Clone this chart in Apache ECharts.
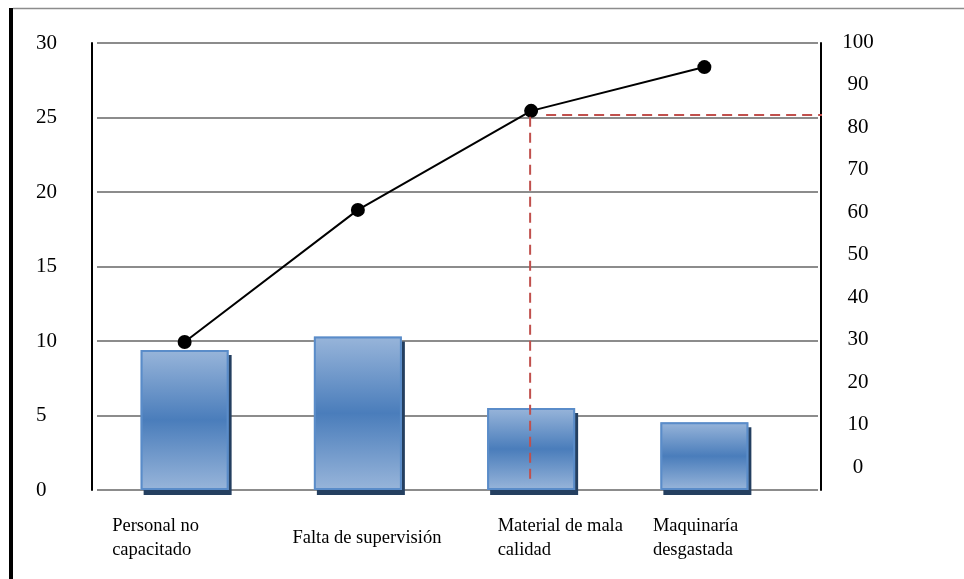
<!DOCTYPE html>
<html>
<head>
<meta charset="utf-8">
<script src="https://cdn.jsdelivr.net/npm/echarts@6/dist/echarts.min.js"></script>
<style>
html,body{margin:0;padding:0;background:#fff;}
#chart{width:964px;height:579px;}
</style>
</head>
<body>
<div id="chart"></div>
<script>
// ---- data ----
const categories = ['Personal no\ncapacitado', 'Falta de supervisión', 'Material de mala\ncalidad', 'Maquinaría\ndesgastada'];
const frequency = [9.4, 10.3, 5.5, 4.55];          // left axis (0-30)
const cumulativePct = [29.4, 60.5, 83.8, 94.1];   // right axis (0-100)
const leftTicks = [0, 5, 10, 15, 20, 25, 30];
const rightTicks = [0, 10, 20, 30, 40, 50, 60, 70, 80, 90, 100];
const cutIndex = 2;          // category where the 80% cut is drawn
const cutLevelLeft = 25.1;   // horizontal cut level in left-axis units
const cutBottomLeft = 0.5;   // vertical cut bottom in left-axis units

// label indent per category (style only)
const labelIndent = [0, 0, 25, 0];

const serif = '"Liberation Serif", "DejaVu Serif", serif';
const chart = echarts.init(document.getElementById('chart'), null, {renderer: 'canvas'});

const barGradient = new echarts.graphic.LinearGradient(0, 0, 0, 1, [
  {offset: 0, color: '#98b5da'},
  {offset: 0.5, color: '#4a7dbb'},
  {offset: 1, color: '#98b5da'}
]);

const option = {
  animation: false,
  backgroundColor: '#ffffff',
  grid: [
    {left: 97, right: 146, top: 43, bottom: 89},
    {left: 98, right: 173, top: 43, bottom: 89},
    {left: 98, right: 173, top: 42, bottom: 112},
    {left: 22, right: 221, top: 43, bottom: 89}
  ],
  xAxis: [
    {gridIndex: 0, type: 'category', data: categories, boundaryGap: false, show: false},
    {gridIndex: 1, type: 'category', data: categories, show: false},
    {gridIndex: 2, type: 'category', data: categories, show: false},
    {gridIndex: 3, type: 'category', data: categories,
      axisLine: {show: false}, axisTick: {show: false},
      axisLabel: {
        align: 'left', verticalAlign: 'middle', margin: 48, interval: 0, color: '#000',
        formatter: function (value, idx) {
          return value.split('\n').map(l => '{s' + idx + '|}{t|' + l + '}').join('\n');
        },
        rich: {
          t: {fontFamily: serif, fontSize: 18.5, color: '#000', lineHeight: 24},
          s0: {width: labelIndent[0]}, s1: {width: labelIndent[1]},
          s2: {width: labelIndent[2]}, s3: {width: labelIndent[3]}
        }
      }}
  ],
  yAxis: [
    {gridIndex: 0, type: 'value', min: 0, max: 30, interval: 5,
      axisLabel: {show: false}, axisTick: {show: false}, axisLine: {show: false},
      splitLine: {show: true, lineStyle: {color: '#8c8c8c', width: 2}}},
    {gridIndex: 0, type: 'value', position: 'right', offset: 3, min: 0, max: 30, interval: 5,
      axisLabel: {show: false}, axisTick: {show: false}, splitLine: {show: false},
      axisLine: {show: true, lineStyle: {color: '#000', width: 2}}},
    {gridIndex: 1, type: 'value', min: 0, max: 30, interval: 5, offset: 6,
      axisLine: {show: true, lineStyle: {color: '#000', width: 2}},
      axisTick: {show: false}, splitLine: {show: false},
      axisLabel: {align: 'left', margin: 56, fontFamily: serif, fontSize: 21, color: '#000', padding: [0, 0, 6, 0]}},
    {gridIndex: 2, type: 'value', position: 'right', min: 0, max: 100, interval: 10,
      axisLine: {show: false}, axisTick: {show: false}, splitLine: {show: false},
      axisLabel: {align: 'center', margin: 67, fontFamily: serif, fontSize: 21, color: '#000'}},
    {gridIndex: 3, type: 'value', show: false, min: 0, max: 30}
  ],
  series: [
    {
      type: 'bar', xAxisIndex: 1, yAxisIndex: 2, data: frequency, barWidth: 88,
      itemStyle: {color: barGradient, borderWidth: 0,
        shadowColor: '#243f60', shadowBlur: 0, shadowOffsetX: 3, shadowOffsetY: 5}
    },
    {
      type: 'bar', xAxisIndex: 1, yAxisIndex: 2, data: frequency, barWidth: 88, barGap: '-100%',
      itemStyle: {color: 'rgba(0,0,0,0)', borderColor: '#5a8cc9', borderWidth: 2}
    },
    {
      type: 'line', xAxisIndex: 2, yAxisIndex: 3, data: cumulativePct,
      symbol: 'circle', symbolSize: 14,
      lineStyle: {color: '#000', width: 2},
      itemStyle: {color: '#000'}
    }
  ]
};
chart.setOption(option);

const topPt = chart.convertToPixel({xAxisIndex: 2, yAxisIndex: 3}, [cutIndex, cumulativePct[cutIndex]]);
const botPt = chart.convertToPixel({xAxisIndex: 1, yAxisIndex: 2}, [cutIndex, cutBottomLeft]);
const levelPt = chart.convertToPixel({xAxisIndex: 1, yAxisIndex: 2}, [cutIndex, cutLevelLeft]);
const rightEnd = chart.convertToPixel({xAxisIndex: 0, yAxisIndex: 0}, [categories.length - 1, 0])[0] + 4;
const dash = {stroke: '#c0504d', lineWidth: 2, lineDash: [10, 6]};

chart.setOption({
  graphic: [
    {type: 'line', z: 100, shape: {x1: botPt[0] - 1, y1: topPt[1] + 6, x2: botPt[0] - 1, y2: botPt[1]}, style: dash},
    {type: 'line', z: 100, shape: {x1: levelPt[0] + 15, y1: levelPt[1] - 1, x2: rightEnd, y2: levelPt[1] - 1}, style: dash},
    {type: 'rect', z: 100, shape: {x: 9, y: 8, width: 4, height: 571}, style: {fill: '#000'}},
    {type: 'line', z: 100, shape: {x1: 13, y1: 8.5, x2: 964, y2: 8.5}, style: {stroke: '#8c8c8c', lineWidth: 1.5}}
  ]
});
</script>
</body>
</html>
